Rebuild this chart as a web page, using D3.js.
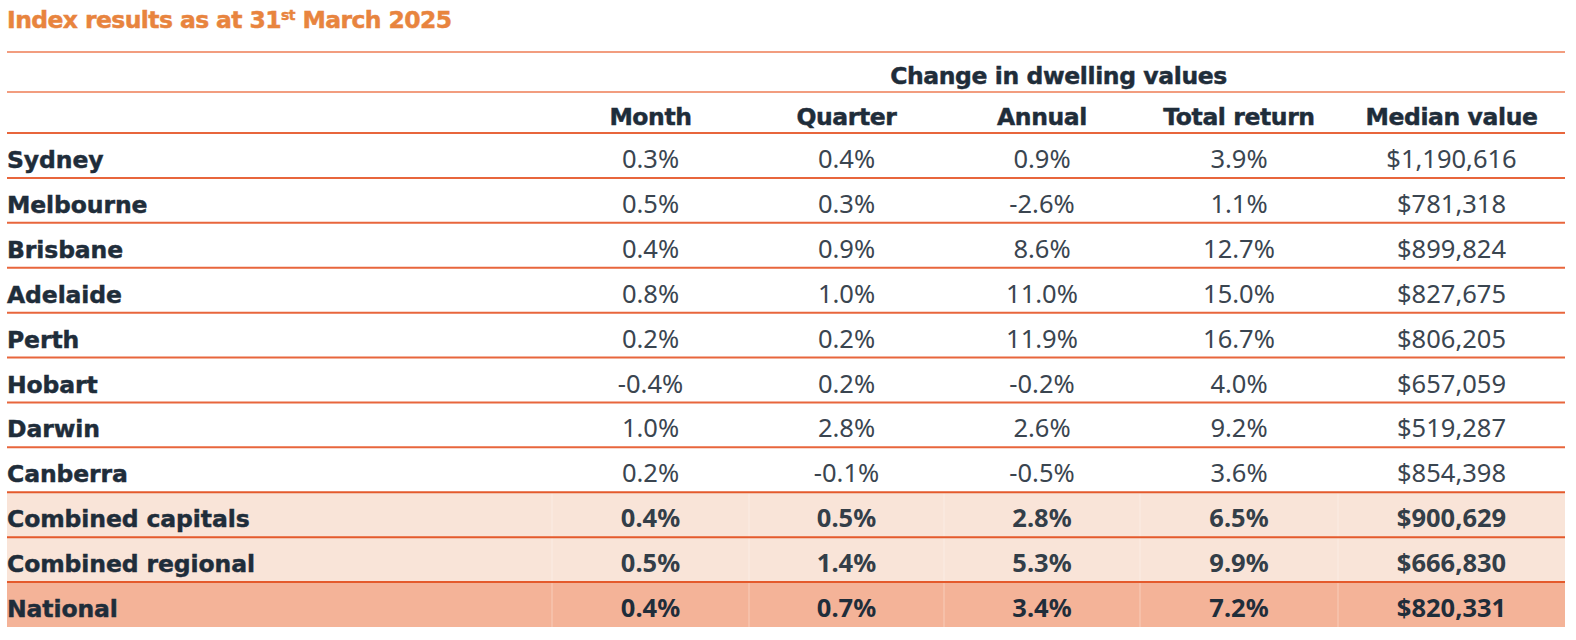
<!DOCTYPE html>
<html><head><meta charset="utf-8">
<script src="https://cdn.jsdelivr.net/npm/d3@7"></script>
<style>
html,body{margin:0;padding:0;background:#fff;}
svg{display:block;}
</style></head>
<body>
<svg id="chart" width="1576" height="640"></svg>
<script>
const title = "Index results as at 31";
const titleSup = "st";
const titleEnd = " March 2025";
const groupHeader = "Change in dwelling values";
const columns = ["Month", "Quarter", "Annual", "Total return", "Median value"];
const regions = ["Sydney","Melbourne","Brisbane","Adelaide","Perth","Hobart","Darwin","Canberra","Combined capitals","Combined regional","National"];
const month   = [0.3, 0.5, 0.4, 0.8, 0.2, -0.4, 1.0, 0.2, 0.4, 0.5, 0.4];
const quarter = [0.4, 0.3, 0.9, 1.0, 0.2, 0.2, 2.8, -0.1, 0.5, 1.4, 0.7];
const annual  = [0.9, -2.6, 8.6, 11.0, 11.9, -0.2, 2.6, -0.5, 2.8, 5.3, 3.4];
const totalReturn = [3.9, 1.1, 12.7, 15.0, 16.7, 4.0, 9.2, 3.6, 6.5, 9.9, 7.2];
const medianValue = [1190616, 781318, 899824, 827675, 806205, 657059, 519287, 854398, 900629, 666830, 820331];
const rowType = ["city","city","city","city","city","city","city","city","combined","combined","national"];

const svg = d3.select("#chart");
const left = 7, right = 1565;
const colEdges = [552, 749, 944, 1140, 1338, 1565];
const headFont = "'DejaVu Sans', sans-serif";
const valFont = "'Noto Sans', sans-serif";
const dark = "#1f2d3a";
const valColor = "#3a4550";
const lineColor = "#e8663c";
const headSize = 23.5;

const y = d3.scaleBand().domain(regions).range([133, 627]).padding(0);
const x = d3.scaleOrdinal().domain(columns).range(columns.map((c,i)=>(colEdges[i]+colEdges[i+1])/2));
const fill = d3.scaleOrdinal().domain(["city","combined","national"]).range(["#ffffff","#f9e4d8","#f4b398"]);

const fmtPct = v => d3.format(".1f")(v).replace("\u2212", "-") + "%";
const fmtMoney = v => "$" + d3.format(",")(v);

const rows = regions.map((r,i)=>({region:r, type:rowType[i],
  vals:[fmtPct(month[i]), fmtPct(quarter[i]), fmtPct(annual[i]), fmtPct(totalReturn[i]), fmtMoney(medianValue[i])]}));

function heavy(sel, color){
  return sel.attr("font-family", headFont).attr("font-weight", 700).attr("font-size", headSize)
    .attr("fill", color).attr("stroke", color).attr("stroke-width", 0.45).attr("paint-order", "stroke");
}

// title
const t = heavy(svg.append("text").attr("x", left).attr("y", 28), "#e8843e").attr("letter-spacing", -0.6);
t.append("tspan").text(title);
t.append("tspan").text(titleSup).attr("font-size", 14).attr("dy", -8);
t.append("tspan").text(titleEnd).attr("dy", 8);

// row backgrounds
const rg = svg.append("g");
rg.selectAll("rect").data(rows.filter(d=>d.type!=="city")).join("rect")
  .attr("x", left).attr("width", right-left)
  .attr("y", d=>y(d.region)).attr("height", y.bandwidth())
  .attr("fill", d=>fill(d.type));
rows.filter(d=>d.type!=="city").forEach(d=>{
  rg.selectAll(null).data(colEdges.slice(0,5)).join("line")
    .attr("x1", e=>e).attr("x2", e=>e)
    .attr("y1", y(d.region)+1).attr("y2", y(d.region)+y.bandwidth())
    .attr("stroke", "#ffffff").attr("stroke-opacity", 0.35).attr("stroke-width", 1);
});

// header lines
svg.append("line").attr("x1",left).attr("x2",right).attr("y1",52).attr("y2",52)
  .attr("stroke","#ee7d55").attr("stroke-width",1.6);
svg.append("line").attr("x1",left).attr("x2",right).attr("y1",92).attr("y2",92)
  .attr("stroke","#ee7d55").attr("stroke-width",1.6);
svg.append("line").attr("x1",left).attr("x2",right).attr("y1",133).attr("y2",133)
  .attr("stroke",lineColor).attr("stroke-width",2);

// row lines
svg.append("g").selectAll("line").data(regions.slice(0, regions.length-1)).join("line")
  .attr("x1",left).attr("x2",right)
  .attr("y1", r=>y(r)+y.bandwidth()).attr("y2", r=>y(r)+y.bandwidth())
  .attr("stroke", (r,i)=> i>=7 ? "#e45a2c" : lineColor).attr("stroke-width", 2);

// group header
heavy(svg.append("text").attr("x", (colEdges[0]+colEdges[5])/2).attr("y", 84)
  .attr("text-anchor","middle"), dark).attr("letter-spacing", -0.4).text(groupHeader);

// column headers
heavy(svg.append("g").selectAll("text").data(columns).join("text")
  .attr("x", c=>x(c)).attr("y", 125).attr("text-anchor","middle"), dark)
  .attr("letter-spacing", -0.4).text(c=>c);

// body
const rowG = svg.append("g").selectAll("g").data(rows).join("g")
  .attr("transform", d=>`translate(0,${y(d.region)+35})`);
heavy(rowG.append("text").attr("x", left), dark).attr("letter-spacing", -0.1).text(d=>d.region);
rowG.selectAll("text.v").data(d=>d.vals.map((v,i)=>({v, c:columns[i], type:d.type}))).join("text")
  .attr("class","v").attr("x", d=>x(d.c)).attr("text-anchor","middle")
  .attr("font-family", valFont).attr("font-size", 25.5)
  .attr("font-weight", d=>d.type==="city"?400:700)
  .attr("fill", d=>d.type==="city"?valColor:(d.type==="national"?"#1f2d3a":"#333e48"))
  .text(d=>d.v);
</script>
</body></html>
